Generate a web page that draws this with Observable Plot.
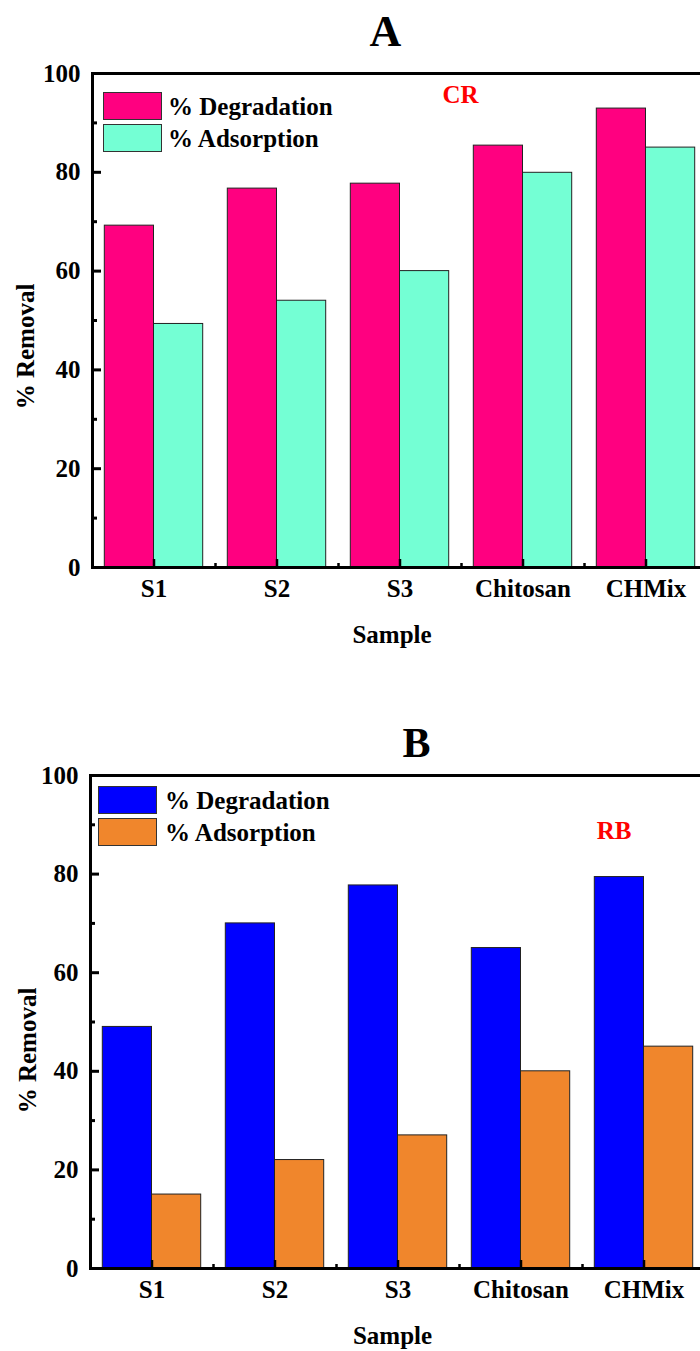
<!DOCTYPE html>
<html>
<head>
<meta charset="utf-8">
<script src="https://cdn.jsdelivr.net/npm/d3@7"></script>
<script src="https://cdn.jsdelivr.net/npm/@observablehq/plot@0.6"></script>
<style>
  html, body { margin: 0; padding: 0; background: #fff; overflow: hidden; }
  #wrap { position: relative; width: 700px; height: 1351px; overflow: hidden; font-family: "Liberation Serif", "Times New Roman", serif; }
  #wrap svg.panel { position: absolute; left: 0; max-width: none !important; width: 720px; height: 675px; }
  .sw { position: absolute; width: 57px; height: 26px; border: 1px solid #333; box-sizing: content-box; }
  .lt { position: absolute; font-size: 25px; line-height: 25px; font-weight: bold; color: #000; white-space: nowrap; }
</style>
</head>
<body>
<div id="wrap"></div>
<script>
const samples = ["S1", "S2", "S3", "Chitosan", "CHMix"];
const crDegradation = [69.2, 76.7, 77.7, 85.4, 92.9];
const crAdsorption = [49.3, 54.0, 60.0, 79.9, 85.0];
const rbDegradation = [49.0, 70.0, 77.7, 65.0, 79.4];
const rbAdsorption = [15.0, 22.0, 27.0, 40.0, 45.0];
const yTicks = [0, 20, 40, 60, 80, 100];
const yMinorTicks = [10, 30, 50, 70, 90];
const seriesNames = ["% Degradation", "% Adsorption"];

const wrap = document.getElementById("wrap");

function panel(cfg) {
  const W = 720, H = 675;
  const {ml, mr, mt, mb} = cfg;
  const fw = W - ml - mr, fh = H - mt - mb;
  const bw = fw / samples.length;
  const rows = samples.map((s, i) => ({sample: s, deg: cfg.deg[i], ads: cfg.ads[i]}));
  const font = {fontFamily: "Liberation Serif, Times New Roman, serif", fontWeight: "bold"};
  const chart = Plot.plot({
    width: W, height: H,
    marginLeft: ml, marginRight: mr, marginTop: mt, marginBottom: mb,
    style: {fontFamily: "Liberation Serif, Times New Roman, serif", fontSize: "25px", fontWeight: "bold", background: "transparent", overflow: "visible", maxWidth: "none"},
    x: {domain: samples, padding: 0, axis: null},
    y: {domain: [0, 100], axis: null},
    marks: [
      Plot.barY(rows, {x: "sample", y: "deg", fill: cfg.c1, stroke: "#222", strokeWidth: 1, insetLeft: bw * 0.1, insetRight: bw * 0.5}),
      Plot.barY(rows, {x: "sample", y: "ads", fill: cfg.c2, stroke: "#222", strokeWidth: 1, insetLeft: bw * 0.5, insetRight: bw * 0.1}),
      Plot.ruleY(yTicks, {y: d => d, stroke: "#000", strokeWidth: 3, insetRight: fw - 9}),
      Plot.ruleY(yMinorTicks, {y: d => d, stroke: "#000", strokeWidth: 3, insetRight: fw - 5}),
      Plot.ruleX(samples, {x: d => d, stroke: "#000", strokeWidth: 2.5, insetTop: fh - 8}),
      Plot.ruleX(samples.slice(0, -1), {x: d => d, dx: bw / 2, stroke: "#000", strokeWidth: 2.5, insetTop: fh - 4}),
      Plot.frame({stroke: "#000", strokeWidth: 3}),
      Plot.axisY({ticks: yTicks, tickSize: 0, tickPadding: 12, label: null, fontSize: 25, ...font}),
      Plot.axisX({tickSize: 0, tickPadding: 12, label: null, fontSize: 25, ...font}),
      Plot.text(["% Removal"], {text: d => d, frameAnchor: "left", rotate: -90, lineAnchor: "bottom", textAnchor: "middle", dx: cfg.ylDx, dy: cfg.ylDy, fontSize: 25, ...font}),
      Plot.text(["Sample"], {text: d => d, frameAnchor: "bottom", lineAnchor: "bottom", dx: cfg.xlDx, dy: 75, fontSize: 25, ...font}),
      Plot.text([cfg.title], {text: d => d, frameAnchor: "top", lineAnchor: "bottom", dx: cfg.tDx, dy: cfg.tDy, fontSize: cfg.tSize, ...font}),
      Plot.text([cfg.dye], {text: d => d, frameAnchor: "top", lineAnchor: "bottom", dx: cfg.dDx, dy: cfg.dDy, fill: "#ff0000", fontSize: 25, ...font})
    ]
  });
  chart.classList.add("panel");
  chart.style.top = cfg.top + "px";
  chart.style.maxWidth = "none";
  chart.style.width = W + "px";
  chart.style.height = H + "px";
  wrap.appendChild(chart);

  // legend
  [cfg.c1, cfg.c2].forEach((c, i) => {
    const sw = document.createElement("div");
    sw.className = "sw";
    sw.style.left = cfg.lgX + "px";
    sw.style.top = (cfg.lgY + i * 32) + "px";
    sw.style.background = c;
    wrap.appendChild(sw);
    const t = document.createElement("div");
    t.className = "lt";
    t.style.left = cfg.ltX + "px";
    t.style.top = (cfg.ltY + i * 32) + "px";
    t.textContent = seriesNames[i];
    wrap.appendChild(t);
  });
}

panel({
  top: 0, ml: 92, mr: 13, mt: 73, mb: 108,
  deg: crDegradation, ads: crAdsorption,
  c1: "#ff0080", c2: "#74ffd4",
  title: "A", tSize: 44, tDx: -14.5, tDy: -28,
  dye: "CR", dDx: 60.5, dDy: 29,
  ylDx: -59, ylDy: 26, xlDx: -8,
  lgX: 103, lgY: 92, ltX: 168, ltY: 94
});

panel({
  top: 676, ml: 90, mr: 15, mt: 99, mb: 83,
  deg: rbDegradation, ads: rbAdsorption,
  c1: "#0000ff", c2: "#f0862c",
  title: "B", tSize: 42, tDx: 18.5, tDy: -19,
  dye: "RB", dDx: 216, dDy: 63,
  ylDx: -55, ylDy: 28.5, xlDx: -5.5,
  lgX: 98, lgY: 786, ltX: 165, ltY: 788
});
</script>
</body>
</html>
